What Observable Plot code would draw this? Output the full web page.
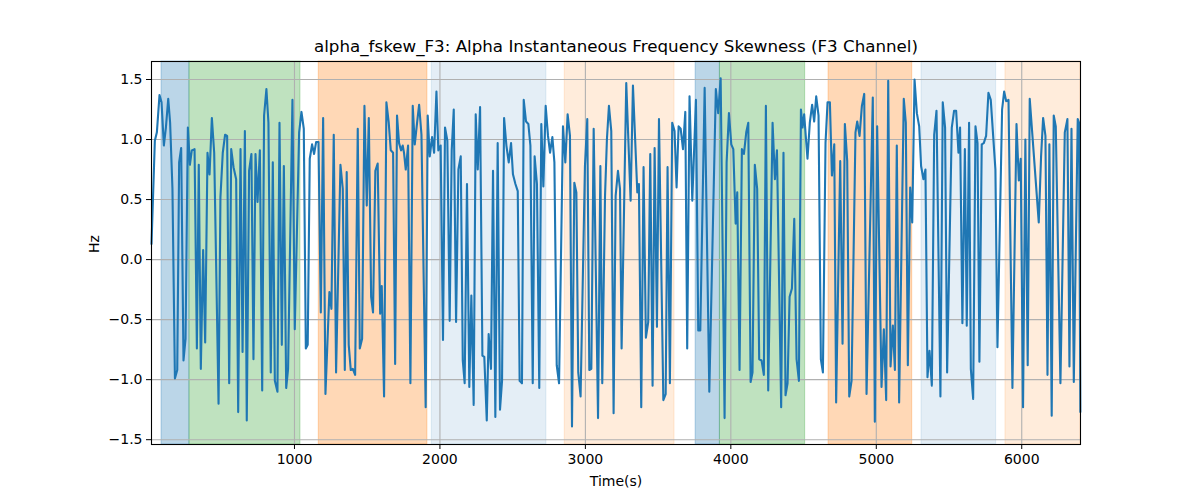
<!DOCTYPE html>
<html><head><meta charset="utf-8">
<script src="https://cdn.jsdelivr.net/npm/d3@7"></script>
<script src="https://cdn.jsdelivr.net/npm/@observablehq/plot@0.6"></script>
<style>
body{margin:0;background:#fff;}
#chart svg{font-family:"DejaVu Sans",sans-serif;}
</style>
</head><body><div id="chart"></div>
<script>
const chartTitle = "alpha_fskew_F3: Alpha Instantaneous Frequency Skewness (F3 Channel)";
const xLabel = "Time(s)";
const yLabel = "Hz";

const times = [
  17,40,54,72,86,102,116,132,145,161,178,194,207,221,237,251,267,281,294,313,329,342,356,372,386,402,416,432,448,478,491,507,523,537,551,565,581,599,613,629,643,659,672,688,704,718,732,746,762,778,791,
  807,821,837,851,865,883,897,913,927,943,956,986,1002,1032,1048,1064,1078,1091,1105,1121,1135,1149,1165,1181,1197,1213,1240,1254,1270,1286,1316,1332,1346,1359,1373,1387,1401,1417,1435,1449,1465,1481,1497,1511,1527,1540,1556,1572,1589,1600,1616,1632,
  1648,1662,1678,1692,1705,1719,1733,1744,1753,1765,1781,1797,1813,1827,1843,1857,1873,1902,1916,1930,1946,1960,1976,1989,2005,2021,2035,2051,2067,2081,2095,2111,2127,2143,2157,2170,2186,2202,2216,2232,2246,2260,2276,2292,2305,2322,2335,2351,2365,2381,2397,2413,2427,2441,
  2457,2473,2489,2502,2519,2535,2548,2564,2576,2592,2608,2622,2638,2651,2667,2683,2697,2711,2727,2743,2757,2773,2787,2803,2819,2846,2862,2878,2894,2908,2924,2938,2951,2967,2997,3013,3027,3041,3057,3087,3103,3116,3135,3148,3162,3178,3194,3208,3224,3238,3249,
  3281,3311,3327,3357,3368,3384,3400,3416,3432,3446,3462,3476,3492,3506,3536,3552,3565,3581,3597,3613,3627,3641,3655,3671,3687,3700,3716,3735,3760,3776,3790,3820,3852,3897,3913,3930,3957,3971,3987,4003,4017,4033,4044,
  4060,4076,4090,4106,4120,4136,4149,4165,4181,4195,4211,4227,4241,4257,4287,4303,4317,4346,4362,4376,4390,4404,4420,4436,4452,4468,4482,4493,4504,4527,4543,4559,4573,4587,4603,4619,4633,4651,4665,4681,4695,4711,4724,4752,4768,4784,4800,4814,4830,4857,
  4869,4885,4901,4917,4933,4976,4990,5006,5036,5052,5068,5082,5098,5114,5128,5141,5157,5189,5203,5217,5233,5247,5263,5279,5295,5308,5324,5338,5352,5366,5382,5398,5414,5441,5457,5473,5487,5519,5535,5549,5565,5576,5592,5609,5622,5638,
  5650,5666,5682,5696,5709,5725,5739,5755,5771,5787,5819,5833,5865,5879,5893,5909,5936,5964,5980,5993,6009,6025,6041,6055,6117,6133,6147,6163,6177,6190,6206,6220,6234,6266,6296,6314,6328,6342,6358,6385,6394,6403
];
const hz = [
  0.13,0.99,1.06,1.37,1.31,0.95,1.10,1.34,1.14,0.59,-0.99,-0.92,0.81,0.93,-0.84,-0.66,1.10,0.79,0.91,0.92,-0.74,0.79,-0.91,0.08,-0.69,0.89,0.71,1.18,0.89,-1.20,0.52,0.89,1.04,1.03,-1.03,0.92,0.77,0.67,-1.27,0.92,-0.77,1.07,-1.34,0.74,0.88,-0.83,0.88,0.48,0.91,-1.09,1.20,
  1.42,1.14,-0.94,0.81,-1.01,-1.10,1.14,-0.71,0.78,-1.07,-0.91,1.33,-0.58,1.06,1.23,1.09,-0.74,-0.71,0.84,0.96,0.88,0.98,0.98,-0.44,1.18,-1.12,-0.27,-0.41,1.04,-0.94,0.79,0.59,-0.92,0.73,-0.71,-0.92,-0.91,-0.96,1.09,-0.74,-0.66,1.28,0.45,1.18,-0.31,-0.44,0.74,0.80,-0.45,-0.22,-1.14,1.31,
  1.14,0.91,0.89,-0.87,1.20,0.97,0.91,0.95,0.89,0.75,0.95,-1.03,1.28,0.96,1.14,1.29,1.04,-1.23,1.20,0.86,1.02,0.89,1.40,0.91,0.95,-0.67,1.10,0.99,-0.51,0.91,1.25,-0.52,0.75,0.86,-0.84,-1.03,0.63,-1.06,-0.30,-1.21,1.21,0.75,1.27,-0.80,-0.81,-1.34,-0.62,-0.91,0.74,-1.31,0.97,-1.25,-1.01,1.18,
  0.95,0.81,0.97,0.71,0.63,0.57,-1.01,-1.03,1.33,1.15,1.13,0.95,-1.03,0.86,0.63,-1.07,1.13,0.61,1.28,1.03,0.89,1.02,0.81,-0.88,-1.03,1.11,0.81,1.21,1.03,-1.39,0.64,0.56,-0.94,-1.14,0.78,1.17,-0.92,-0.91,1.09,-1.32,0.78,-1.03,0.53,1.00,1.28,1.07,-1.28,0.53,0.74,0.59,-0.74,
  1.47,0.49,1.45,0.56,0.63,-1.23,0.77,-0.65,-0.52,0.88,-1.05,0.93,-0.56,1.17,-1.17,-1.12,0.77,-1.03,1.14,1.07,0.60,1.11,1.09,0.92,1.23,-0.74,1.36,0.49,1.33,-0.59,-0.59,1.43,-1.10,1.42,1.22,1.51,-1.32,0.81,1.22,0.96,0.92,0.30,0.56,
  -0.92,0.92,0.88,1.06,1.14,-1.02,-0.94,0.79,0.59,-0.83,-0.84,-0.96,1.28,-1.09,1.14,0.67,0.91,-1.23,0.89,-1.13,-1.03,-0.31,-0.24,0.34,-0.83,-1.01,1.25,1.10,1.21,0.84,1.14,1.29,1.15,1.36,1.20,-0.83,-0.94,0.97,1.31,1.31,0.70,0.96,-1.19,0.82,-0.70,1.13,0.82,-1.14,-1.01,1.06,
  1.15,1.03,1.28,1.38,-1.12,1.35,-1.35,1.11,-1.06,-0.58,-1.17,1.49,-0.89,-0.55,-0.92,0.95,-1.19,1.34,1.14,-0.88,0.60,0.31,1.50,1.22,1.11,0.78,0.67,0.75,-0.98,-0.76,-1.05,1.04,1.24,-1.14,1.31,1.10,-0.94,1.10,1.24,1.24,0.89,1.10,-0.53,0.92,-0.55,1.14,
  -0.91,-1.16,1.11,0.97,-0.85,0.96,0.97,1.03,1.39,1.33,0.75,-0.73,1.25,1.40,1.32,1.33,-1.07,1.13,0.66,0.84,-1.23,1.00,-0.88,1.34,0.31,0.86,1.18,1.03,-0.96,0.96,-1.30,1.20,1.11,-1.03,1.06,1.17,-0.89,1.09,-1.02,1.17,1.14,-1.27
];

const bandStart = [86, 278, 1167, 1944, 2858, 3758, 3925, 4672, 5311, 5888];
const bandEnd   = [278, 1041, 1914, 2732, 3613, 3925, 4511, 5247, 5824, 6404];
const bandColor = ["#1f77b4","#2ca02c","#ff7f0e","#1f77b4","#ff7f0e","#1f77b4","#2ca02c","#ff7f0e","#1f77b4","#ff7f0e"];
const bandAlpha = [0.3, 0.3, 0.3, 0.12, 0.15, 0.3, 0.3, 0.3, 0.12, 0.15];

const xTicks = [1000, 2000, 3000, 4000, 5000, 6000];
const yTicks = [-1.5, -1.0, -0.5, 0.0, 0.5, 1.0, 1.5];

const series = times.map((t, i) => ({t, v: hz[i]}));
const bands = bandStart.map((s, i) => ({x1: s, x2: bandEnd[i], color: bandColor[i], alpha: bandAlpha[i]}));

const plot = Plot.plot({
  width: 1200,
  height: 500,
  marginLeft: 151,
  marginRight: 120,
  marginTop: 61,
  marginBottom: 56,
  style: {fontFamily: "DejaVu Sans, sans-serif", fontSize: "14px", background: "#fff", color: "#000"},
  x: {domain: [17, 6404]},
  y: {domain: [-1.54, 1.65]},
  marks: [
    ...bands.map(b => Plot.rect([b], {x1: "x1", x2: "x2", fill: b.color, fillOpacity: b.alpha, stroke: b.color, strokeOpacity: b.alpha, strokeWidth: 1})),
    Plot.gridX(xTicks, {stroke: "#b0b0b0", strokeOpacity: 1, strokeWidth: 1.1}),
    Plot.gridY(yTicks, {stroke: "#b0b0b0", strokeOpacity: 1, strokeWidth: 1.1}),
    Plot.line(series, {x: "t", y: "v", stroke: "#1f77b4", strokeWidth: 2.1, strokeLinejoin: "round"}),
    Plot.frame({stroke: "#000", strokeWidth: 1.1}),
    Plot.axisX({ticks: xTicks, tickFormat: d3.format("d"), tickSize: 5, tickPadding: 5, label: null, fontSize: 14}),
    Plot.axisY({ticks: yTicks, tickFormat: d3.format(".1f"), tickSize: 5, tickPadding: 4, label: null, fontSize: 14}),
    Plot.text([chartTitle], {frameAnchor: "top", lineAnchor: "middle", dy: -15, fontSize: 16.7, fill: "#000"}),
    Plot.text([xLabel], {frameAnchor: "bottom", lineAnchor: "middle", dy: 37, fontSize: 14, fill: "#000"}),
    Plot.text([yLabel], {frameAnchor: "left", dx: -57, rotate: -90, fontSize: 14, fill: "#000"})
  ]
});
document.getElementById("chart").appendChild(plot);
</script>
</body></html>
